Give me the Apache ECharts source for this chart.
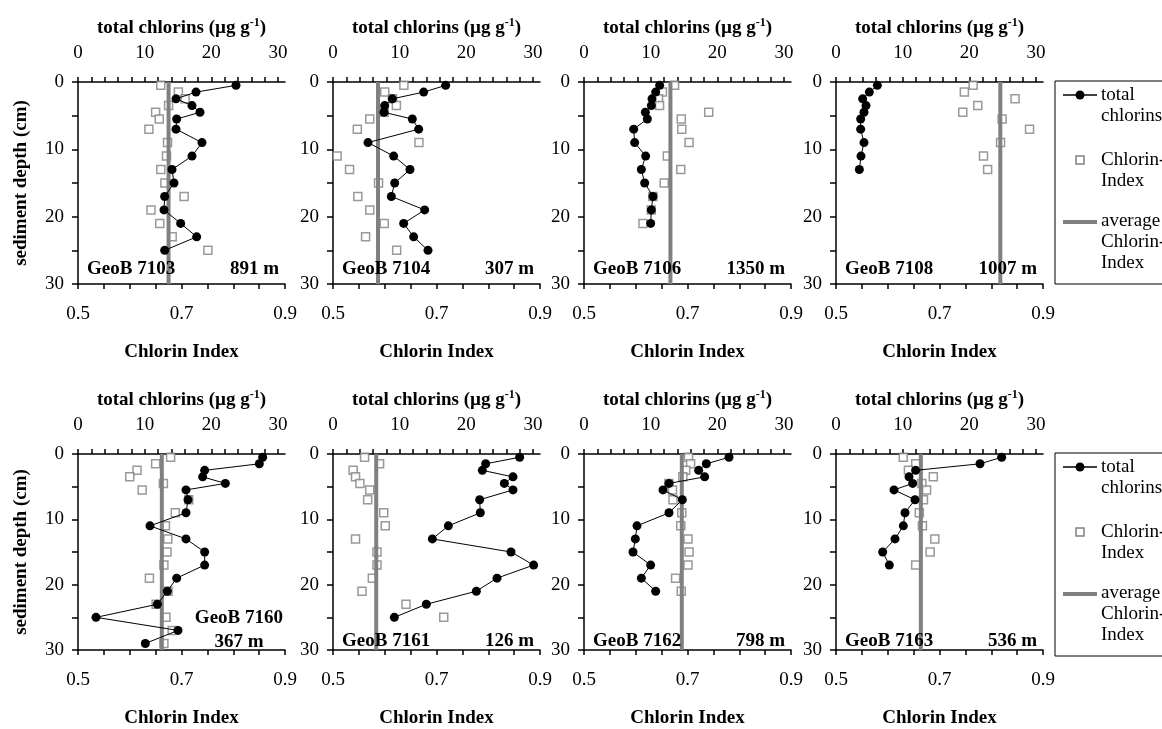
<!DOCTYPE html>
<html><head><meta charset="utf-8">
<script src="https://cdn.jsdelivr.net/npm/echarts@6/dist/echarts.min.js"></script>
<style>html,body{margin:0;padding:0;background:#fff}#c{width:1162px;height:729px}</style>
</head><body><div id="c"></div><script>
// ---------- data ----------
const stationNames = ['GeoB 7103','GeoB 7104','GeoB 7106','GeoB 7108','GeoB 7160','GeoB 7161','GeoB 7162','GeoB 7163'];
const waterDepths = ['891 m','307 m','1350 m','1007 m','367 m','126 m','798 m','536 m'];
const chlorinAxisLabels = [0,10,20,30];
const indexAxisLabels = [0.5,0.7,0.9];
const depthAxisLabels = [0,10,20,30];

const depth7103 = [0.5,1.5,2.5,3.5,4.5,5.5,7,9,11,13,15,17,19,21,23,25];
const chl7103 = [23.7,17.7,14.7,17.1,18.3,14.8,14.7,18.6,17.1,14.1,14.4,13.0,12.9,15.4,17.8,13.0];
const idx7103 = [0.660,0.694,0.707,0.675,0.650,0.657,0.637,0.673,0.671,0.660,0.668,0.705,0.641,0.658,0.682,0.751];
const avg7103 = 0.675;

const depth7104 = [0.5,1.5,2.5,3.5,4.5,5.5,7,9,11,13,15,17,19,21,23,25];
const chl7104 = [16.9,13.6,8.9,7.75,7.65,11.9,12.85,5.25,9.1,11.55,9.25,8.75,13.75,10.6,12.1,14.25];
const idx7104 = [0.637,0.600,0.615,0.6225,0.599,0.571,0.547,0.666,0.508,0.532,0.588,0.548,0.571,0.599,0.563,0.623];
const avg7104 = 0.587;

const depth7106 = [0.5,1.5,2.5,3.5,4.5,5.5,7,9,11,13,15,17,19,21];
const chl7106 = [11.35,10.75,10.2,10.1,9.2,9.5,7.45,7.6,9.25,8.6,9.1,10.35,10.1,10.0];
const idx7106 = [0.675,0.6515,0.644,0.646,0.741,0.688,0.689,0.703,0.661,0.687,0.655,0.633,0.630,0.614];
const avg7106 = 0.667;

const depth7108 = [0.5,1.5,2.5,3.5,4.5,5.5,7,9,11,13];
const chl7108 = [6.2,5.0,4.0,4.5,4.2,3.7,3.7,4.2,3.75,3.5];
const idx7108 = [0.765,0.748,0.846,0.774,0.745,0.821,0.874,0.818,0.785,0.793];
const avg7108 = 0.8175;

const depth7160 = [0.5,1.5,2.5,3.5,4.5,5.5,7,9,11,13,15,17,19,21,23,25,27,29];
const chl7160 = [27.7,27.2,19.0,18.7,22.1,16.2,16.5,16.2,10.8,16.2,19.0,19.0,14.8,13.4,11.9,2.7,15.0,10.1];
const idx7160 = [0.679,0.650,0.614,0.600,0.665,0.624,0.714,0.688,0.669,0.6735,0.672,0.666,0.638,0.674,0.651,0.670,0.682,0.666];
const avg7160 = 0.662;

const depth7161 = [0.5,1.5,2.5,3.5,4.5,5.5,7,9,11,13,15,17,19,21,23,25];
const chl7161 = [28.0,22.9,22.4,27.0,25.7,27.0,22.0,22.1,17.3,14.9,26.7,30.1,24.6,21.5,14.0,9.2];
const idx7161 = [0.561,0.590,0.539,0.5435,0.552,0.571,0.567,0.598,0.601,0.5435,0.585,0.585,0.576,0.556,0.641,0.714];
const avg7161 = 0.5835;

const depth7162 = [0.5,1.5,2.5,3.5,4.5,5.5,7,9,11,13,15,17,19,21];
const chl7162 = [21.75,18.35,17.2,18.1,12.75,11.85,14.75,12.75,7.95,7.7,7.35,10.0,8.6,10.75];
const idx7162 = [0.702,0.706,0.6965,0.691,0.664,0.671,0.672,0.689,0.687,0.701,0.703,0.701,0.677,0.688];
const avg7162 = 0.689;

const depth7163 = [0.5,1.5,2.5,3.5,4.5,5.5,7,9,11,13,15,17];
const chl7163 = [24.85,21.6,11.95,10.95,11.5,8.7,11.85,10.35,10.1,8.85,7.0,8.0];
const idx7163 = [0.630,0.654,0.640,0.688,0.666,0.675,0.669,0.661,0.667,0.691,0.682,0.654];
const avg7163 = 0.664;

// ---------- build ----------
const panels = [
  {depth: depth7103, chl: chl7103, idx: idx7103, avg: avg7103},
  {depth: depth7104, chl: chl7104, idx: idx7104, avg: avg7104},
  {depth: depth7106, chl: chl7106, idx: idx7106, avg: avg7106},
  {depth: depth7108, chl: chl7108, idx: idx7108, avg: avg7108},
  {depth: depth7160, chl: chl7160, idx: idx7160, avg: avg7160},
  {depth: depth7161, chl: chl7161, idx: idx7161, avg: avg7161},
  {depth: depth7162, chl: chl7162, idx: idx7162, avg: avg7162},
  {depth: depth7163, chl: chl7163, idx: idx7163, avg: avg7163}
];

const FONT = 'Liberation Serif';
const GRAY = '#808080';
const gridLefts = [78, 333, 584, 836];
const rowTops = [82, 454];
const gridW = 207, gridH = 202;
const chlPx = 200; // pixel length of 0..30 on the top axis

const idxTicks = []; for (let k = 0; k <= 8; k++) idxTicks.push(+(0.5 + k * 0.05).toFixed(2));
const chlTicks = []; for (let k = 0; k <= 30; k += 2) chlTicks.push(k);
const depTicks = [0,5,10,15,20,25,30];

const lineSt = {color: '#000', width: 1.5};
const tickFont = {fontFamily: FONT, fontSize: 19, color: '#000'};
const nameFont = {fontFamily: FONT, fontSize: 19, fontWeight: 'bold', color: '#000'};

const grids = [], xAxes = [], yAxes = [], series = [], graphics = [];

panels.forEach((p, i) => {
  const col = i % 4, row = Math.floor(i / 4);
  const L = gridLefts[col], T = rowTops[row];
  grids.push({left: L, top: T, width: gridW, height: gridH});
  // bottom axis: Chlorin Index
  xAxes.push({
    gridIndex: i, type: 'value', position: 'bottom', min: 0.5, max: 0.9,
    name: 'Chlorin Index', nameLocation: 'middle', nameGap: 59, nameTextStyle: nameFont,
    axisLine: {show: true, onZero: false, lineStyle: lineSt},
    axisTick: {show: true, inside: false, length: 5, lineStyle: lineSt, customValues: idxTicks},
    axisLabel: Object.assign({customValues: indexAxisLabels, margin: 21, formatter: v => v.toFixed(1)}, tickFont),
    splitLine: {show: false}
  });
  // top axis: total chlorins
  xAxes.push({
    gridIndex: i, type: 'value', position: 'top', min: 0, max: 30 * gridW / chlPx,
    name: 'total chlorins (µg g{sup|-1})', nameLocation: 'middle', nameGap: 43,
    nameTextStyle: Object.assign({lineHeight: 22, rich: {sup: {fontFamily: FONT, fontSize: 12, fontWeight: 'bold', color: '#000', verticalAlign: 'top', lineHeight: 12}}}, nameFont),
    axisLine: {show: true, onZero: false, lineStyle: lineSt},
    axisTick: {show: true, inside: false, length: 5, lineStyle: lineSt, customValues: chlTicks},
    axisLabel: Object.assign({customValues: chlorinAxisLabels, margin: 19}, tickFont),
    splitLine: {show: false}
  });
  yAxes.push({
    gridIndex: i, type: 'value', inverse: true, min: 0, max: 30,
    name: col === 0 ? 'sediment depth (cm)' : '', nameLocation: 'middle', nameGap: 47, nameTextStyle: nameFont,
    axisLine: {show: true, onZero: false, lineStyle: lineSt},
    axisTick: {show: true, inside: false, length: 6, lineStyle: lineSt, customValues: depTicks},
    axisLabel: Object.assign({customValues: depthAxisLabels, margin: 14}, tickFont),
    splitLine: {show: false}
  });
  series.push({
    name: 'Chlorin-Index', type: 'scatter', xAxisIndex: 2 * i, yAxisIndex: i,
    data: p.idx.map((v, k) => [v, p.depth[k]]),
    symbol: 'rect', symbolSize: 8,
    itemStyle: {color: '#fff', borderColor: GRAY, borderWidth: 1.5}, z: 2
  });
  series.push({
    name: 'average Chlorin-Index', type: 'line', xAxisIndex: 2 * i, yAxisIndex: i,
    data: [[p.avg, 0], [p.avg, 30]], symbol: 'none',
    lineStyle: {color: GRAY, width: 4}, z: 3
  });
  series.push({
    name: 'total chlorins', type: 'line', xAxisIndex: 2 * i + 1, yAxisIndex: i,
    data: p.chl.map((v, k) => [v, p.depth[k]]),
    symbol: 'circle', symbolSize: 9, showSymbol: true,
    itemStyle: {color: '#000'}, lineStyle: {color: '#000', width: 1}, z: 4
  });
  // station labels
  const annFont = 'bold 19px "' + FONT + '"';
  if (i === 4) {
    graphics.push({type: 'text', z: 10, style: {x: L + 205, y: T + 164, text: stationNames[i], font: annFont, fill: '#000', textAlign: 'right', textVerticalAlign: 'middle'}});
    graphics.push({type: 'text', z: 10, style: {x: L + 161, y: T + 188, text: waterDepths[i], font: annFont, fill: '#000', textAlign: 'center', textVerticalAlign: 'middle'}});
  } else {
    graphics.push({type: 'text', z: 10, style: {x: L + 9, y: T + 187, text: stationNames[i], font: annFont, fill: '#000', textAlign: 'left', textVerticalAlign: 'middle'}});
    graphics.push({type: 'text', z: 10, style: {x: L + 201, y: T + 187, text: waterDepths[i], font: annFont, fill: '#000', textAlign: 'right', textVerticalAlign: 'middle'}});
  }
});

// legends (one per row)
const legFont = '19px "' + FONT + '"';
rowTops.forEach(T => {
  const top = T - 1;
  graphics.push({type: 'rect', z: 10, shape: {x: 1055, y: top, width: 160, height: gridH + 1}, style: {fill: 'none', stroke: '#000', lineWidth: 1}});
  graphics.push({type: 'line', z: 10, shape: {x1: 1063, y1: top + 14, x2: 1097, y2: top + 14}, style: {stroke: '#000', lineWidth: 1.5}});
  graphics.push({type: 'circle', z: 11, shape: {cx: 1080, cy: top + 14, r: 4.5}, style: {fill: '#000'}});
  graphics.push({type: 'text', z: 10, style: {x: 1101, y: top + 4, text: 'total\nchlorins', font: legFont, lineHeight: 21, fill: '#000', textAlign: 'left', textVerticalAlign: 'top'}});
  graphics.push({type: 'rect', z: 10, shape: {x: 1076, y: top + 75, width: 8, height: 8}, style: {fill: '#fff', stroke: GRAY, lineWidth: 1.5}});
  graphics.push({type: 'text', z: 10, style: {x: 1101, y: top + 69, text: 'Chlorin-\nIndex', font: legFont, lineHeight: 21, fill: '#000', textAlign: 'left', textVerticalAlign: 'top'}});
  graphics.push({type: 'line', z: 10, shape: {x1: 1063, y1: top + 141, x2: 1097, y2: top + 141}, style: {stroke: GRAY, lineWidth: 4}});
  graphics.push({type: 'text', z: 10, style: {x: 1101, y: top + 130, text: 'average\nChlorin-\nIndex', font: legFont, lineHeight: 21, fill: '#000', textAlign: 'left', textVerticalAlign: 'top'}});
});

const chart = echarts.init(document.getElementById('c'));
chart.setOption({
  animation: false,
  backgroundColor: '#fff',
  textStyle: {fontFamily: FONT},
  grid: grids, xAxis: xAxes, yAxis: yAxes, series: series,
  graphic: {elements: graphics}
});
</script></body></html>
